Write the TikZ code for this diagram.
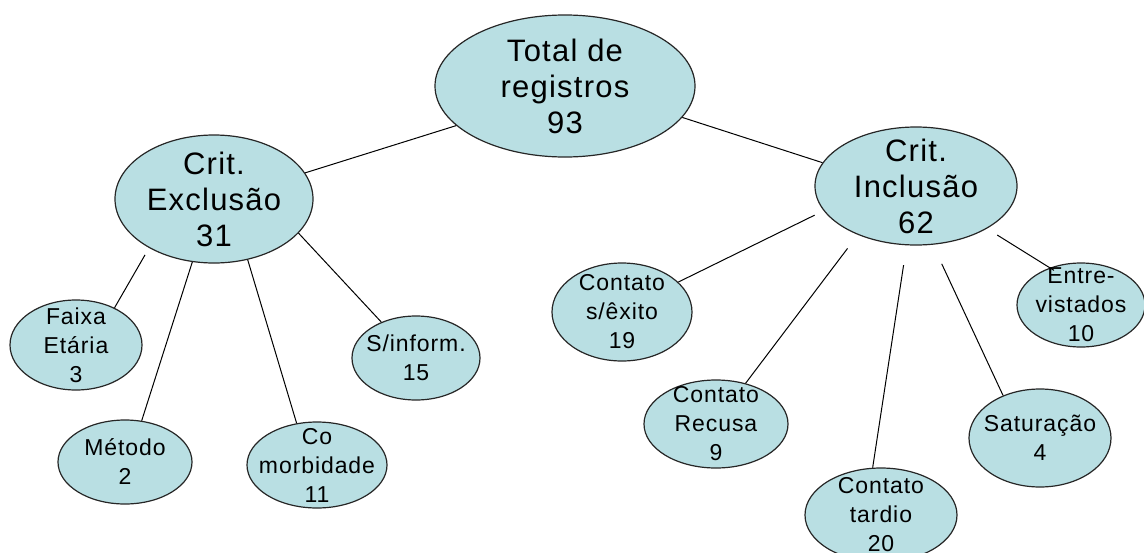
\documentclass[tikz,border=0pt]{standalone}
\usepackage{fontspec}
\setmainfont{Liberation Sans}
\newfontfamily\pptfont[LetterSpace=4]{Liberation Sans}
\usepackage{tikz}
\usetikzlibrary{shapes.geometric}
\usepackage{xcolor}
\definecolor{bubblefill}{RGB}{185,223,227}

\tikzset{
  bubble/.style={ellipse, draw=black!85, fill=bubblefill, line width=1.2pt, inner sep=0pt},
  bigtxt/.style={font=\pptfont\fontsize{31}{36}\selectfont, align=center},
  smalltxt/.style={font=\pptfont\fontsize{23}{29}\selectfont, align=center},
  link/.style={line width=1pt}
}

\begin{document}
\begin{tikzpicture}[x=1pt,y=-1pt]
  \useasboundingbox (0,0) rectangle (1144,552);
  \clip (0,0) rectangle (1144,552);

  % top and the two criteria
  \node[bubble, minimum width=260pt, minimum height=142pt, label={[bigtxt]center:{Total de\\registros\\93}}] (total) at (565,86) {};
  \node[bubble, minimum width=198pt, minimum height=128pt, label={[bigtxt]center:{Crit.\\Exclusão\\31}}] (excl) at (214,199) {};
  \node[bubble, minimum width=202pt, minimum height=118pt, label={[bigtxt]center:{Crit.\\Inclusão\\62}}] (incl) at (916,186) {};

  % exclusion leaves
  \node[bubble, minimum width=132pt, minimum height=90pt, label={[smalltxt]center:{Faixa\\Etária\\3}}] (faixa) at (76,345) {};
  \node[bubble, minimum width=134pt, minimum height=84pt, label={[smalltxt]center:{Método\\2}}] (metodo) at (125,462) {};
  \node[bubble, minimum width=140pt, minimum height=86pt, label={[smalltxt]center:{Co\\morbidade\\11}}] (comorb) at (317,465) {};
  \node[bubble, minimum width=128pt, minimum height=84pt, label={[smalltxt]center:{S/inform.\\15}}] (sinform) at (416,358) {};

  % inclusion leaves
  \node[bubble, minimum width=140pt, minimum height=98pt, label={[smalltxt]center:{Contato\\s/êxito\\19}}] (sexito) at (622,312) {};
  \node[bubble, minimum width=144pt, minimum height=88pt, label={[smalltxt]center:{Contato\\Recusa\\9}}] (recusa) at (716,424) {};
  \node[bubble, minimum width=152pt, minimum height=94pt, label={[smalltxt]center:{Contato\\tardio\\20}}] (tardio) at (881,515) {};
  \node[bubble, minimum width=142pt, minimum height=98pt, label={[smalltxt]center:{Saturação\\4}}] (satur) at (1040,438) {};
  \node[bubble, minimum width=128pt, minimum height=84pt, label={[smalltxt]center:{Entre-\\vistados\\10}}] (entre) at (1081,305) {};

  \draw[link] (total.200) -- (excl.16);
  \draw[link] (total.345) -- (incl.166);

  \draw[link, shorten <=8pt] (excl.217) -- (faixa.44);
  \draw[link] (excl.251) -- (metodo.68);
  \draw[link] (excl.299) -- (comorb.116);
  \draw[link] (excl.338) -- (sinform.134);

  \draw[link, shorten <=10pt] (incl.195) -- (sexito.28);
  \draw[link, shorten <=17pt] (incl.220) -- (recusa.54);
  \draw[link, shorten <=20pt] (incl.261) -- (tardio.100);
  \draw[link, shorten <=21pt] (incl.286) -- (satur.131);
  \draw[link, shorten <=12pt, shorten >=-5pt] (incl.329) -- (entre.130);
\end{tikzpicture}
\end{document}
